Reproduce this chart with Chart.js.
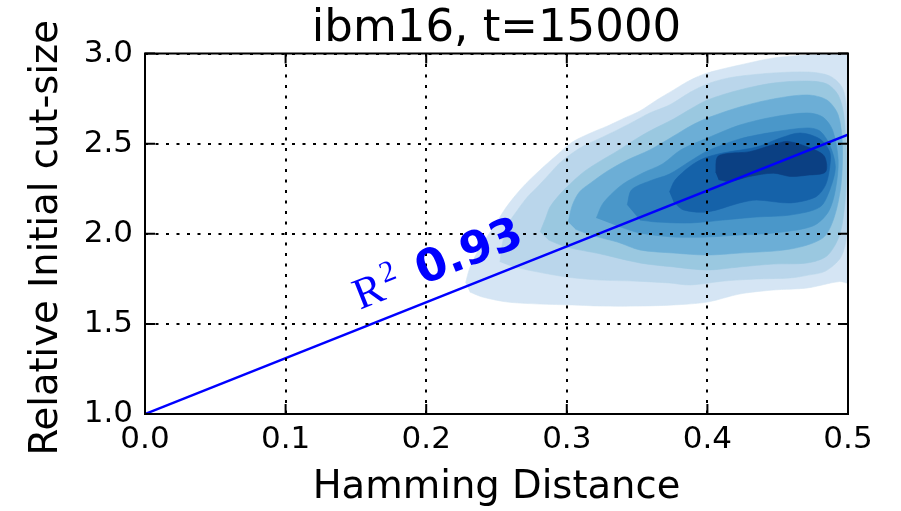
<!DOCTYPE html>
<html>
<head>
<meta charset="utf-8">
<title>ibm16, t=15000</title>
<script src="https://cdn.jsdelivr.net/npm/chart.js@4.4.1/dist/chart.umd.min.js"></script>
<style>
  html, body { margin: 0; padding: 0; background: #fff; }
  #wrap { width: 901px; height: 511px; }
</style>
</head>
<body>
<div id="wrap"><canvas id="chart" width="901" height="511"></canvas></div>
<script>
const chartTitle = 'ibm16, t=15000';
const xLabel = 'Hamming Distance';
const yLabel = 'Relative Initial cut-size';
const xTicks = [0.0, 0.1, 0.2, 0.3, 0.4, 0.5];
const yTicks = [1.0, 1.5, 2.0, 2.5, 3.0];

// linear fit over the full range
const fitX = [0.0, 0.5];
const fitY = [1.0, 2.55];
const fitR2 = 0.93;

// KDE contour outlines, outermost level first: [hamming distance, relative cut-size]
const level1 = [
  [0.228, 1.727], [0.231, 1.810], [0.238, 1.921], [0.249, 2.049], [0.257, 2.148],
  [0.268, 2.254], [0.281, 2.354], [0.293, 2.437], [0.304, 2.509], [0.317, 2.559],
  [0.329, 2.598], [0.341, 2.642], [0.352, 2.681], [0.364, 2.742], [0.376, 2.798],
  [0.388, 2.853], [0.400, 2.892], [0.423, 2.936], [0.447, 2.975], [0.471, 2.992],
  [0.494, 3.003], [0.505, 3.003], [0.505, 1.725], [0.494, 1.735], [0.471, 1.699],
  [0.447, 1.688], [0.423, 1.666], [0.400, 1.621], [0.376, 1.605], [0.352, 1.599],
  [0.324, 1.599], [0.304, 1.605], [0.281, 1.610], [0.258, 1.621], [0.240, 1.649],
  [0.231, 1.677]
];
const level2 = [
  [0.2525, 1.843], [0.254, 1.938], [0.258, 2.049], [0.265, 2.132], [0.272, 2.204],
  [0.279, 2.259], [0.287, 2.326], [0.295, 2.393], [0.304, 2.448], [0.312, 2.487],
  [0.324, 2.531], [0.336, 2.576], [0.347, 2.620], [0.359, 2.670], [0.373, 2.714],
  [0.388, 2.786], [0.400, 2.831], [0.412, 2.859], [0.424, 2.875], [0.447, 2.892],
  [0.472, 2.897], [0.487, 2.875], [0.496, 2.809], [0.499, 2.687], [0.500, 2.298],
  [0.499, 1.993], [0.495, 1.871], [0.484, 1.793], [0.472, 1.771], [0.459, 1.755],
  [0.435, 1.749], [0.412, 1.738], [0.388, 1.716], [0.373, 1.727], [0.347, 1.738],
  [0.324, 1.743], [0.300, 1.760], [0.276, 1.793], [0.260, 1.821]
];
const level3 = [
  [0.281, 2.010], [0.285, 2.087], [0.288, 2.148], [0.294, 2.209], [0.300, 2.259],
  [0.312, 2.343], [0.324, 2.404], [0.336, 2.459], [0.347, 2.515], [0.359, 2.570],
  [0.376, 2.637], [0.388, 2.692], [0.400, 2.742], [0.423, 2.798], [0.447, 2.836],
  [0.471, 2.847], [0.485, 2.831], [0.493, 2.770], [0.497, 2.659], [0.499, 2.409],
  [0.498, 2.187], [0.494, 1.993], [0.485, 1.877], [0.471, 1.838], [0.447, 1.832],
  [0.423, 1.816], [0.400, 1.799], [0.376, 1.816], [0.352, 1.838], [0.324, 1.888],
  [0.300, 1.926], [0.287, 1.965]
];
const level4 = [
  [0.301, 2.065], [0.304, 2.160], [0.309, 2.232], [0.317, 2.282], [0.329, 2.348],
  [0.343, 2.409], [0.359, 2.465], [0.376, 2.542], [0.388, 2.598], [0.400, 2.642],
  [0.423, 2.703], [0.447, 2.748], [0.471, 2.770], [0.485, 2.742], [0.493, 2.659],
  [0.496, 2.492], [0.495, 2.270], [0.490, 2.087], [0.482, 1.976], [0.459, 1.915],
  [0.423, 1.893], [0.400, 1.882], [0.376, 1.893], [0.352, 1.910], [0.336, 1.954],
  [0.317, 1.993], [0.306, 2.026]
];
const level5 = [
  [0.321, 2.087], [0.325, 2.160], [0.331, 2.215], [0.340, 2.276], [0.354, 2.337],
  [0.368, 2.387], [0.381, 2.465], [0.400, 2.531], [0.423, 2.603], [0.447, 2.648],
  [0.471, 2.670], [0.482, 2.648], [0.489, 2.576], [0.493, 2.409], [0.491, 2.243],
  [0.486, 2.121], [0.475, 2.043], [0.447, 2.004], [0.423, 1.993], [0.400, 1.982],
  [0.376, 1.982], [0.352, 2.004], [0.336, 2.043]
];
const level6 = [
  [0.343, 2.160], [0.346, 2.243], [0.359, 2.293], [0.373, 2.331], [0.388, 2.404],
  [0.400, 2.459], [0.423, 2.526], [0.447, 2.564], [0.471, 2.587], [0.480, 2.570],
  [0.487, 2.492], [0.491, 2.370], [0.487, 2.243], [0.480, 2.148], [0.459, 2.104],
  [0.435, 2.093], [0.411, 2.076], [0.388, 2.060], [0.364, 2.065], [0.352, 2.076]
];
const level7 = [
  [0.373, 2.232], [0.377, 2.298], [0.388, 2.376], [0.398, 2.420], [0.411, 2.448],
  [0.435, 2.481], [0.452, 2.531], [0.466, 2.559], [0.480, 2.526], [0.487, 2.454],
  [0.487, 2.370], [0.484, 2.270], [0.477, 2.204], [0.459, 2.171], [0.435, 2.187],
  [0.423, 2.171], [0.400, 2.121], [0.383, 2.132], [0.376, 2.176]
];
const level8 = [
  [0.406, 2.337], [0.407, 2.425], [0.414, 2.445], [0.430, 2.455], [0.447, 2.495],
  [0.457, 2.512], [0.471, 2.482], [0.483, 2.432], [0.484, 2.343], [0.471, 2.325],
  [0.459, 2.318], [0.447, 2.336], [0.430, 2.318], [0.416, 2.290], [0.408, 2.300]
];

const levels = [level1, level2, level3, level4, level5, level6, level7, level8];
const levelColors = ['#d5e5f4', '#bad6eb', '#9ac8e0', '#6caed6', '#4a97c9', '#2e7ebc', '#1562a9', '#0b4083'];

const FONT = "'DejaVu Sans', sans-serif";

const datasets = levels.map((pts, i) => ({
  data: pts.map(p => ({ x: p[0], y: p[1] })),
  showLine: true,
  fill: 'shape',
  backgroundColor: levelColors[i],
  borderColor: levelColors[i],
  borderWidth: 0.6,
  pointRadius: 0,
  tension: 0.3,
  order: levels.length - i + 1
}));

datasets.push({
  data: fitX.map((x, i) => ({ x: x, y: fitY[i] })),
  showLine: true,
  fill: false,
  borderColor: '#0000ff',
  borderWidth: 2.5,
  pointRadius: 0,
  order: 0
});

/* title and y label, frame, inward ticks on all four sides */
const framePlugin = {
  id: 'frame',
  afterDraw(chart) {
    const { ctx, chartArea: a, scales: { x, y } } = chart;
    ctx.save();
    ctx.strokeStyle = '#000';
    ctx.lineWidth = 2;
    ctx.beginPath();
    xTicks.forEach(v => {
      const px = x.getPixelForValue(v);
      ctx.moveTo(px, a.bottom); ctx.lineTo(px, a.bottom - 10);
      ctx.moveTo(px, a.top); ctx.lineTo(px, a.top + 10);
    });
    yTicks.forEach(v => {
      const py = y.getPixelForValue(v);
      ctx.moveTo(a.left, py); ctx.lineTo(a.left + 10, py);
      ctx.moveTo(a.right, py); ctx.lineTo(a.right - 10, py);
    });
    ctx.stroke();
    ctx.strokeRect(a.left, a.top, a.right - a.left, a.bottom - a.top);

    ctx.fillStyle = '#000';
    ctx.textAlign = 'center';
    ctx.textBaseline = 'alphabetic';
    ctx.font = "45px " + FONT;
    ctx.fillText(chartTitle, (a.left + a.right) / 2, a.top - 13);

    ctx.font = "38.5px " + FONT;
    ctx.translate(57, (a.top + a.bottom) / 2 + 4);
    ctx.rotate(-Math.PI / 2);
    ctx.fillText(yLabel, 0, 0);
    ctx.restore();
  }
};

/* R^2 note written along the fit line */
const r2Plugin = {
  id: 'r2note',
  afterDraw(chart) {
    const { ctx, scales: { x, y } } = chart;
    const angle = Math.atan2(
      y.getPixelForValue(fitY[1]) - y.getPixelForValue(fitY[0]),
      x.getPixelForValue(fitX[1]) - x.getPixelForValue(fitX[0])
    );
    ctx.save();
    ctx.translate(x.getPixelForValue(0.1530), y.getPixelForValue(1.578));
    ctx.rotate(angle);
    ctx.fillStyle = '#0000ff';
    ctx.textBaseline = 'alphabetic';
    ctx.font = "44px 'Liberation Serif', serif";
    ctx.fillText('R', 0, 0);
    ctx.font = "30px 'Liberation Serif', serif";
    ctx.fillText('2', 32, -16);
    ctx.font = "bold 45px " + FONT;
    ctx.fillText(fitR2.toFixed(2), 67, 0);
    ctx.restore();
  }
};

const axisFont = { family: FONT, size: 31 };
const labelFont = { family: FONT, size: 38.5 };

new Chart(document.getElementById('chart'), {
  type: 'scatter',
  data: { datasets },
  options: {
    responsive: false,
    animation: false,
    layout: { padding: { left: 0, right: 53, top: 53.5, bottom: 0 } },
    plugins: {
      legend: { display: false },
      tooltip: { enabled: false },
      title: { display: false }
    },
    scales: {
      x: {
        type: 'linear',
        min: 0,
        max: 0.5,
        afterBuildTicks: s => { s.ticks = xTicks.map(v => ({ value: v })); },
        afterFit: s => { s.height = 97; },
        grid: { color: '#000', lineWidth: 2, z: 1, drawTicks: false },
        border: { display: false, dash: [3, 7.5] },
        ticks: { color: '#000', font: axisFont, padding: 7, maxRotation: 0, autoSkip: false, callback: v => v.toFixed(1) },
        title: { display: true, text: xLabel, color: '#000', font: labelFont, padding: { top: 0, bottom: 0 } }
      },
      y: {
        type: 'linear',
        min: 1,
        max: 3,
        afterBuildTicks: s => { s.ticks = yTicks.map(v => ({ value: v })); },
        afterFit: s => { s.width = 145; },
        grid: { color: '#000', lineWidth: 2, z: 1, drawTicks: false },
        border: { display: false, dash: [3, 7.5] },
        ticks: { color: '#000', font: axisFont, padding: 12, autoSkip: false, callback: v => v.toFixed(1) },
        title: { display: false }
      }
    }
  },
  plugins: [framePlugin, r2Plugin]
});
</script>
</body>
</html>
